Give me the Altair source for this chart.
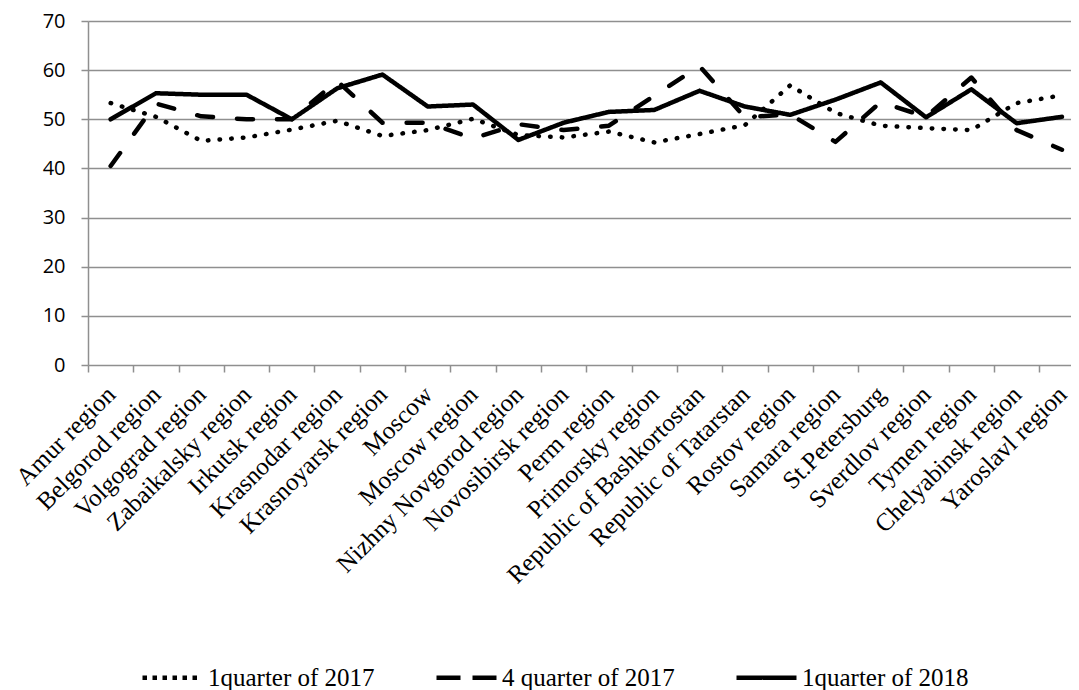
import altair as alt
import pandas as pd

regions = ["Amur region", "Belgorod region", "Volgograd region", "Zabaikalsky region",
           "Irkutsk region", "Krasnodar region", "Krasnoyarsk region", "Moscow",
           "Moscow region", "Nizhny Novgorod region", "Novosibirsk region", "Perm region",
           "Primorsky region", "Republic of Bashkortostan", "Republic of Tatarstan",
           "Rostov region", "Samara region", "St.Petersburg", "Sverdlov region",
           "Tymen region", "Chelyabinsk region", "Yaroslavl region"]

q1_2017 = [53.3, 50.5, 45.6, 46.3, 47.9, 49.7, 46.6, 47.8, 50.1, 46.8, 46.3,
           47.5, 45.3, 47.0, 48.8, 56.9, 51.3, 48.7, 48.2, 47.8, 53.3, 54.9]
q4_2017 = [40.5, 53.2, 50.6, 50.0, 50.0, 57.8, 49.3, 49.3, 46.1, 49.0, 47.8,
           48.7, 54.8, 60.8, 50.4, 51.0, 45.4, 53.5, 50.5, 58.5, 47.8, 43.8]
q1_2018 = [50.0, 55.3, 55.0, 55.0, 50.0, 56.3, 59.1, 52.6, 53.0, 45.8, 49.3,
           51.5, 51.9, 55.8, 52.6, 50.9, 54.0, 57.5, 50.4, 56.1, 49.2, 50.5]

series_names = ["1quarter of 2017", "4 quarter of 2017", "1quarter of 2018"]
y_ticks = [0, 10, 20, 30, 40, 50, 60, 70]

rows = []
for name, vals in zip(series_names, [q1_2017, q4_2017, q1_2018]):
    for r, v in zip(regions, vals):
        rows.append({"region": r, "value": v, "series": name})
df = pd.DataFrame(rows)
# one point per series: carries the legend, draws no visible line
df_legend = df[df["region"] == regions[0]]

GRID = "#8f8f8f"

x_enc = alt.X(
    "region:N", sort=regions, title=None,
    scale=alt.Scale(type="band", paddingInner=0, paddingOuter=0, range=[0, 996.6]),
    axis=alt.Axis(labelAngle=-45, labelAlign="right", labelBaseline="middle",
                  labelFont="Liberation Serif", labelFontSize=25, labelColor="black",
                  tickBand="extent", tickSize=7, tickColor=GRID, tickWidth=1.5,
                  domain=False, grid=False, labelPadding=18, labelOverlap=False,
                  labelLimit=600),
)
y_enc = alt.Y(
    "value:Q", title=None,
    scale=alt.Scale(domain=[0, 70]),
    axis=alt.Axis(values=y_ticks, labelFont="Open Sans", labelFontSize=20,
                  labelColor="black", tickSize=7, tickColor=GRID, tickWidth=1.5,
                  domainColor=GRID, domainWidth=1.5, gridColor=GRID, gridWidth=1.5,
                  labelPadding=16),
)

lines = alt.Chart(df).mark_line(strokeCap="round", strokeJoin="round", color="black").encode(
    x=x_enc,
    y=y_enc,
    strokeDash=alt.StrokeDash("series:N",
                              scale=alt.Scale(domain=series_names,
                                              range=[[0.5, 11.2], [16, 24], [1, 0]]),
                              legend=None),
    strokeWidth=alt.StrokeWidth("series:N",
                                scale=alt.Scale(domain=series_names, range=[4.5, 4.5, 3.5]),
                                legend=None),
)

legend_layer = alt.Chart(df_legend).mark_line(color="black", strokeWidth=4.5,
                                               strokeCap="butt").encode(
    x=x_enc,
    y=y_enc,
    strokeDash=alt.StrokeDash(
        "series:N",
        scale=alt.Scale(domain=series_names, range=[[4.5, 5.5], [24, 12], [1, 0]]),
        legend=alt.Legend(orient="none", legendX=52, legendY=624, direction="horizontal",
                          title=None, symbolType="stroke", symbolSize=3600,
                          symbolStrokeWidth=4.5, symbolStrokeColor="black",
                          labelFont="Liberation Serif", labelFontSize=25,
                          labelColor="black", labelOffset=3, columnPadding=52,
                          padding=0, labelLimit=400),
    ),
)

chart = alt.layer(legend_layer, lines).resolve_scale(
    strokeDash="independent"
).properties(
    width=983, height=344,
    autosize=alt.AutoSizeParams(type="none"),
    padding={"left": 80, "top": 13, "right": 0, "bottom": 326},
    background="white",
).configure_view(stroke=None)

chart.save("out.html", embed_options={"renderer": "svg", "actions": False})
